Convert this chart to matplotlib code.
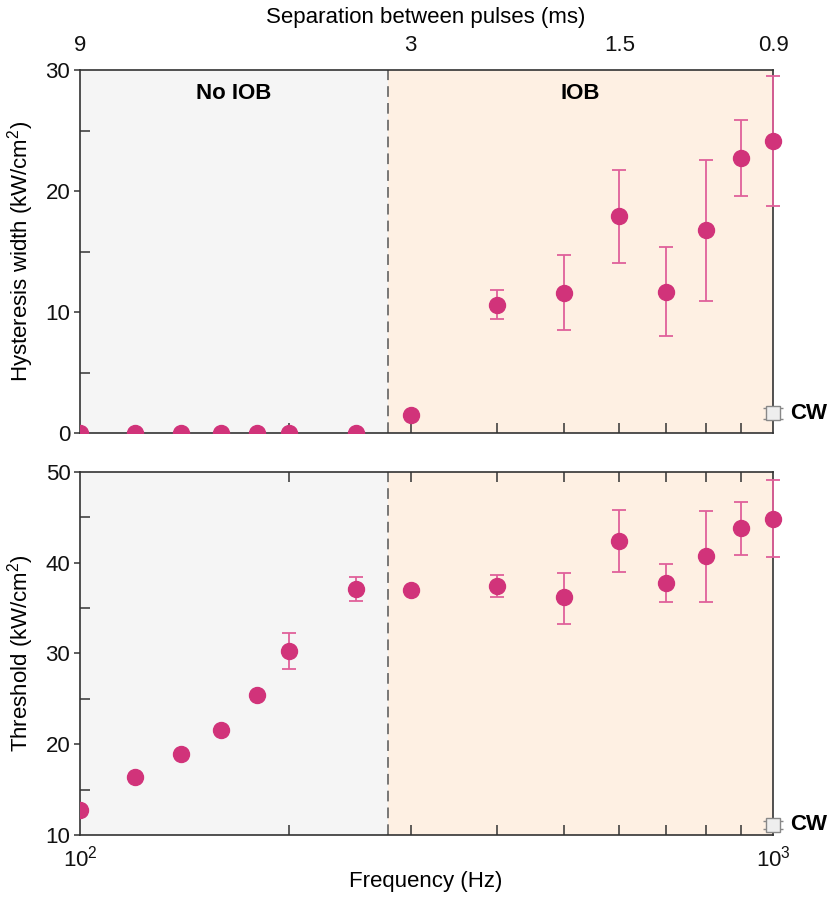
import matplotlib
matplotlib.use("Agg")
import matplotlib.pyplot as plt
from matplotlib.patches import Rectangle
from matplotlib.ticker import FixedLocator, NullFormatter, NullLocator
import math

plt.rcParams['font.family'] = ['Liberation Sans', 'DejaVu Sans']
plt.rcParams['mathtext.fontset'] = 'custom'
plt.rcParams['mathtext.rm'] = 'Liberation Sans'
plt.rcParams['mathtext.it'] = 'Liberation Sans:italic'
plt.rcParams['mathtext.bf'] = 'Liberation Sans:bold'

# ---------------- data ----------------
freq = [100, 120, 140, 160, 180, 200, 250, 300, 400, 500, 600, 700, 800, 900, 1000]

hyst = [0, 0, 0, 0, 0, 0, 0, 1.5, 10.6, 11.6, 17.9, 11.7, 16.8, 22.7, 24.1]
hyst_up = [0, 0, 0, 0, 0, 0, 0, 0, 1.2, 3.1, 3.8, 3.65, 5.8, 3.2, 5.4]
hyst_dn = [0, 0, 0, 0, 0, 0, 0, 0, 1.2, 3.1, 3.8, 3.65, 5.9, 3.1, 5.3]

thresh = [12.7, 16.4, 18.9, 21.6, 25.4, 30.3, 37.1, 37.0, 37.45, 36.2, 42.4, 37.8, 40.7, 43.8, 44.8]
thresh_up = [0.2, 0.3, 0.3, 0.2, 0.2, 2.0, 1.3, 0.3, 1.25, 2.7, 3.4, 2.1, 5.0, 2.9, 4.3]
thresh_dn = [0.2, 0.3, 0.3, 0.2, 0.2, 2.0, 1.3, 0.3, 1.25, 2.9, 3.4, 2.1, 5.0, 2.9, 4.2]

cw_hyst = 1.66
cw_thresh = 11.1
cw_err = 0.45

boundary = 278
region_labels = ["No IOB", "IOB"]

top_tick_freq = [100, 300, 600, 1000]
top_tick_labels = ["9", "3", "1.5", "0.9"]

# ---------------- style ----------------
mcol = '#D1337A'
ecol = '#E0609A'
gray_bg = '#F5F5F5'
orange_bg = '#FEF0E3'
spine_col = '#333333'
fs = 16

fig = plt.figure(figsize=(8.32, 8.98), dpi=100)
ax1 = fig.add_axes([0.0962, 0.5175, 0.8329, 0.4046])
ax2 = fig.add_axes([0.0962, 0.0702, 0.8329, 0.4042])


def style_axis(ax, ylim, ymajor, yminor):
    ax.set_xscale('log')
    ax.set_xlim(100, 1000)
    ax.set_ylim(*ylim)
    ax.axvspan(100, boundary, color=gray_bg, zorder=0, lw=0)
    ax.axvspan(boundary, 1000, color=orange_bg, zorder=0, lw=0)
    ax.axvline(boundary, color='#555555', lw=1.1, dashes=(7, 4), zorder=1)
    for s in ['left', 'bottom', 'top', 'right']:
        ax.spines[s].set_color(spine_col)
        ax.spines[s].set_linewidth(1.2)
    ax.xaxis.set_major_locator(FixedLocator([100, 1000]))
    ax.xaxis.set_minor_locator(FixedLocator([200, 300, 400, 500, 600, 700, 800, 900]))
    ax.xaxis.set_minor_formatter(NullFormatter())
    ax.yaxis.set_major_locator(FixedLocator(ymajor))
    ax.yaxis.set_minor_locator(FixedLocator(yminor))
    ax.tick_params(axis='x', which='minor', direction='in', length=7, width=1.1,
                   color=spine_col, top=True, bottom=True)
    ax.tick_params(axis='x', which='major', length=0, labelsize=fs, pad=8, colors='#111111')
    ax.tick_params(axis='y', which='minor', direction='in', length=7, width=1.1,
                   color=spine_col, right=False)
    ax.tick_params(axis='y', which='major', direction='out', length=4, width=1.1,
                   color=spine_col, labelsize=fs, pad=3, right=False, labelcolor='#111111')


style_axis(ax1, (0, 30), [0, 10, 20, 30], [5, 15, 25])
style_axis(ax2, (10, 50), [10, 20, 30, 40, 50], [15, 25, 35, 45])

ax1.xaxis.set_major_formatter(NullFormatter())
ax2.set_xticklabels([r'$\mathregular{10^{2}}$', r'$\mathregular{10^{3}}$'])


def plot_data(ax, y, up, dn, cw):
    clip = Rectangle((0, 0), 1.06, 1.06, transform=ax.transAxes, visible=False)
    ax.add_patch(clip)
    cont = ax.errorbar(freq, y, yerr=[dn, up], fmt='o', color=mcol, ms=11.5,
                       mec=mcol, ecolor=ecol, elinewidth=1.3, capsize=5,
                       capthick=1.3, zorder=3)
    for art in cont.lines[1] + cont.lines[2]:
        art.set_clip_path(clip)
    cont.lines[0].set_clip_path(clip)
    # CW marker
    cw_c = ax.errorbar([1000], [cw], yerr=[[cw_err], [cw_err]], fmt='s', ms=10,
                       mfc='#EEEEEE', mec='#888888', mew=1.0, ecolor='#888888',
                       elinewidth=1.0, capsize=7.5, capthick=1.8, zorder=5)
    for art in [cw_c.lines[0]] + list(cw_c.lines[1]) + list(cw_c.lines[2]):
        art.set_clip_on(False)
    ax.annotate('CW', xy=(1000, cw), xytext=(12, 0), textcoords='offset points',
                ha='left', va='center', fontsize=fs, fontweight='bold',
                annotation_clip=False)


plot_data(ax1, hyst, hyst_up, hyst_dn, cw_hyst)
plot_data(ax2, thresh, thresh_up, thresh_dn, cw_thresh)

# region labels (centred in log space)
c1 = 10 ** ((math.log10(100) + math.log10(boundary)) / 2)
c2 = 10 ** ((math.log10(boundary) + math.log10(1000)) / 2)
ax1.text(c1, 0.934, region_labels[0], transform=ax1.get_xaxis_transform(),
         ha='center', va='center', fontsize=fs, fontweight='bold')
ax1.text(c2, 0.934, region_labels[1], transform=ax1.get_xaxis_transform(),
         ha='center', va='center', fontsize=fs, fontweight='bold')

# top axis: separation between pulses
axt = ax1.twiny()
axt.set_xscale('log')
axt.set_xlim(100, 1000)
axt.xaxis.set_major_locator(FixedLocator(top_tick_freq))
axt.xaxis.set_minor_locator(NullLocator())
axt.set_xticklabels(top_tick_labels)
axt.tick_params(axis='x', which='major', length=0, labelsize=fs, pad=10, colors='#111111')
for s in axt.spines.values():
    s.set_visible(False)

# labels
ax1.set_ylabel('Hysteresis width (kW/cm$\\mathregular{^2}$)', fontsize=fs)
ax2.set_ylabel('Threshold (kW/cm$\\mathregular{^2}$)', fontsize=fs)
ax1.yaxis.set_label_coords(-0.063, 0.5)
ax2.yaxis.set_label_coords(-0.063, 0.5)
fig.text(0.512, 1 - 18 / 898, 'Separation between pulses (ms)', ha='center', va='center',
         fontsize=fs)
fig.text(0.512, 1 - 882 / 898, 'Frequency (Hz)', ha='center', va='center', fontsize=fs)

fig.savefig('out.png', dpi=100)
